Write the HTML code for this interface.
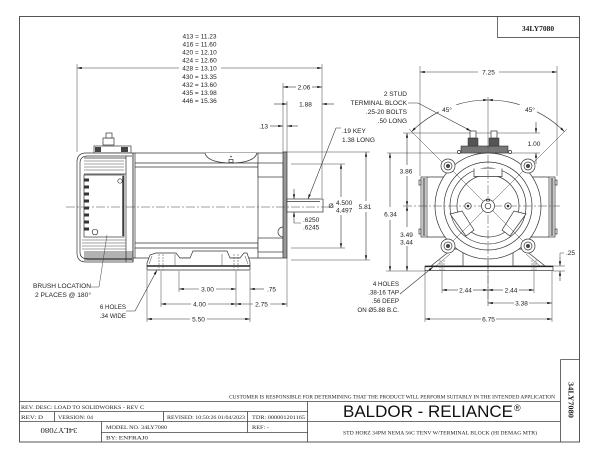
<!DOCTYPE html>
<html><head><meta charset="utf-8">
<style>
html,body{margin:0;padding:0;background:#fff;width:600px;height:464px;overflow:hidden;}
svg{display:block;}
.l{stroke:#333;stroke-width:0.7;fill:none;}
.w{stroke:#333;stroke-width:0.7;fill:#fff;}
.d{stroke:#333;stroke-width:0.6;fill:none;marker-end:url(#a);}
.e{stroke:#444;stroke-width:0.5;fill:none;}
.c{stroke:#444;stroke-width:0.5;fill:none;stroke-dasharray:9,2,2,2;}
.t{font-family:"Liberation Sans",sans-serif;font-size:6.5px;fill:#222;}
.n{font-family:"Liberation Sans",sans-serif;font-size:6.2px;fill:#222;}
.s{font-family:"Liberation Serif",serif;font-size:5.6px;fill:#222;}
</style></head><body>
<svg width="600" height="464" viewBox="0 0 600 464" xmlns="http://www.w3.org/2000/svg">
<defs>
<marker id="a" viewBox="0 0 8 4" refX="8" refY="2" markerWidth="5" markerHeight="2.4" markerUnits="userSpaceOnUse" orient="auto"><path d="M0,0L8,2L0,4z" fill="#222"/></marker>
</defs>
<rect width="600" height="464" fill="#fff"/>
<!-- border -->
<rect x="19.5" y="16.5" width="560" height="425.5" fill="none" stroke="#555" stroke-width="1"/>
<path d="M497.5,16.5V37.5H579.5" class="l"/>
<text x="538" y="31" text-anchor="middle" font-family="Liberation Serif,serif" font-size="7.5" font-weight="bold" fill="#222">34LY7080</text>

<!-- length list -->
<g class="t" font-size="7" text-anchor="middle">
<text x="199.5" y="38.5">413 = 11.23</text>
<text x="199.5" y="46.5">416 = 11.60</text>
<text x="199.5" y="54.5">420 = 12.10</text>
<text x="199.5" y="62.5">424 = 12.60</text>
<text x="199.5" y="70.5">428 = 13.10</text>
<text x="199.5" y="79">430 = 13.35</text>
<text x="199.5" y="87">432 = 13.60</text>
<text x="199.5" y="95">435 = 13.98</text>
<text x="199.5" y="103">446 = 15.36</text>
</g>

<!-- side view extension lines & dims -->
<path class="e" d="M77,64V152 M322,64V198 M283,83V152 M287,101V152"/>
<path class="d" d="M179,68H77"/><path class="d" d="M221,68H322"/>
<path class="d" d="M296,87H283"/><path class="d" d="M312,87H322"/>
<path class="d" d="M274,104H287"/><path class="d" d="M334,104H322"/>
<path class="d" d="M270,126H283"/><path class="d" d="M298,126H287"/>
<text class="t" x="304" y="89.5" text-anchor="middle">2.06</text>
<text class="t" x="305.5" y="106.5" text-anchor="middle">1.88</text>
<text class="t" x="268" y="128.5" text-anchor="end">.13</text>

<!-- terminal block side -->
<rect x="94" y="146" width="37" height="7" class="w"/>
<rect x="95" y="147" width="6" height="5" fill="#444"/>
<rect x="121" y="147" width="7" height="5" fill="#444"/>
<rect x="103" y="138" width="11" height="7" class="w"/>
<rect x="106" y="133" width="6" height="5" class="w"/>

<!-- end cap -->
<path class="w" d="M133,153H86Q77,153 77,162V253Q77,262 86,262H133Z"/>
<path class="l" d="M132,156H88Q80,156 80,163V252Q80,259 88,259H132"/>
<path class="l" d="M84,158H126V174H84 M126,156V262"/>
<path class="e" d="M84,161H124 M84,164H124 M84,167H124 M84,170H124"/>
<rect x="84" y="175" width="40" height="62" class="w"/>
<path d="M123,176V236" stroke="#222" stroke-width="1.3"/>
<g fill="#333">
<rect x="84" y="178.5" width="5" height="3"/><rect x="84" y="185.5" width="5" height="3"/>
<rect x="84" y="192.5" width="5" height="3"/><rect x="84" y="199.5" width="5" height="3"/>
<rect x="84" y="206.5" width="5" height="3"/><rect x="84" y="213.5" width="5" height="3"/>
<rect x="84" y="220.5" width="5" height="3"/><rect x="84" y="227.5" width="5" height="3"/>
</g>
<circle cx="120" cy="181" r="2.2" class="l"/>
<circle cx="95" cy="232" r="2.8" class="l"/>
<path class="e" d="M82,240H126 M82,243H126 M82,246H126 M82,249H126"/>
<path d="M84,252H133 M84,254H133 M84,256H133 M84,258H133 M84,260H133" stroke="#333" stroke-width="0.8"/>

<!-- body -->
<path class="l" d="M133,153H283 M133,153V262 M135,153V258 M135,163H258 M135,167H258 M135,243H258 M135,248H258 M133,258H283 M258,153V258"/>
<path class="w" d="M205,153C207,161 220,163 231,163C242,163 255,161 257,153"/>
<rect x="229" y="159.5" width="4" height="3" class="l"/>
<circle cx="231" cy="156.5" r="0.8" fill="#333"/>
<rect x="258" y="163" width="25" height="14" class="w"/>
<rect x="258" y="238" width="25" height="14" class="w"/>
<rect x="283" y="152" width="4" height="106" fill="#999" stroke="#333" stroke-width="0.7"/>
<path class="l" d="M283,227A5,5 0 0 0 283,237"/>
<rect x="287" y="199" width="36" height="13" class="w"/>
<path class="l" d="M287,201.5H320"/>
<path class="c" d="M66,207H335"/>

<!-- feet side -->
<path class="w" d="M147,270V263L150,255L156,253H176L180,258H190L193,251H227L230,258H240L244,253H247L250,262V270Z"/>
<path d="M147,266H250" stroke="#222" stroke-width="1.4"/>
<path class="e" stroke-dasharray="2,1" d="M159,254V270 M163,254V270 M234,254V270 M238,254V270"/>
<path class="e" d="M175,254V266 M222,254V266 M152,256L149,264 M245,256L248,264"/>

<!-- side bottom dims -->
<path class="e" d="M147,271V322 M161,271V307 M179,271V292 M236,271V307 M250,271V322 M287,258V307"/>
<path class="d" d="M199,289H179"/><path class="d" d="M216,289H236"/>
<path class="d" d="M264,289H250"/>
<path class="d" d="M191,304H161"/><path class="d" d="M208,304H236"/>
<path class="d" d="M253,304H236"/><path class="d" d="M270,304H287"/>
<path class="d" d="M190,319H147"/><path class="d" d="M207,319H250"/>
<text class="t" x="207.5" y="291.5" text-anchor="middle">3.00</text>
<text class="t" x="267" y="291.5">.75</text>
<text class="t" x="199.5" y="306.5" text-anchor="middle">4.00</text>
<text class="t" x="261.5" y="306.5" text-anchor="middle">2.75</text>
<text class="t" x="198.5" y="321.5" text-anchor="middle">5.50</text>

<!-- shaft dims -->
<path class="e" d="M291,164H345 M291,248H345 M283,152H370 M291,260H370"/>
<path class="d" d="M341,197V164"/><path class="d" d="M341,215V248"/>
<path class="d" d="M366,201V152"/><path class="d" d="M366,212V260"/>
<text class="t" x="328.5" y="208" font-size="8">Ø</text>
<text class="t" x="336" y="205" font-size="6">4.500</text>
<text class="t" x="336" y="212.5" font-size="6">4.497</text>
<text class="t" x="365" y="209" text-anchor="middle">5.81</text>
<path class="d" d="M294,189V199"/><path class="d" d="M294,223V212"/>
<path class="e" d="M294,223H301"/>
<text class="t" x="303" y="222" font-size="6">.6250</text>
<text class="t" x="303" y="229.5" font-size="6">.6245</text>
<path class="d" d="M341,128H336L308,199"/>
<text class="t" x="342" y="133">.19 KEY</text>
<text class="t" x="342" y="142">1.38 LONG</text>

<!-- terminal block note -->
<g class="t" text-anchor="end">
<text x="407" y="96">2 STUD</text>
<text x="407" y="105">TERMINAL BLOCK</text>
<text x="407" y="114">.25-20 BOLTS</text>
<text x="407" y="123">.50 LONG</text>
</g>
<path class="d" d="M408,103H418L471,131"/>

<!-- left notes -->
<text class="n" x="33" y="288" textLength="58" lengthAdjust="spacingAndGlyphs">BRUSH LOCATION</text>
<text class="n" x="35" y="297" textLength="56" lengthAdjust="spacingAndGlyphs">2 PLACES @ 180°</text>
<path class="e" d="M91,287H99L107,235"/>
<text class="n" x="126" y="309" text-anchor="end">6 HOLES</text>
<text class="n" x="126" y="318" text-anchor="end">.34 WIDE</text>
<path class="d" d="M126,311H135L157,270"/>

<!-- FRONT VIEW -->
<path class="e" d="M420,66V176 M557,66V176 M403,133H540 M387,153H540 M386,271H426 M488,97V140"/>
<path class="d" d="M478,72H420"/><path class="d" d="M499,72H557"/>
<text class="t" x="488.5" y="74.5" text-anchor="middle">7.25</text>
<path class="d" d="M439,111.8A108,108 0 0 0 411.6,131.6"/>
<path class="d" d="M456.4,104.7A108,108 0 0 1 488,100"/>
<path class="d" d="M519.6,104.7A108,108 0 0 0 488,100"/>
<path class="d" d="M537,111.8A108,108 0 0 1 564.4,131.6"/>
<text class="t" x="447" y="112" text-anchor="middle">45°</text>
<text class="t" x="530" y="112" text-anchor="middle">45°</text>
<path class="e" d="M409,129L444,164 M567,129L532,164"/>
<path class="d" d="M536,122V133"/><path class="d" d="M536,164V153"/>
<text class="t" x="534" y="146" text-anchor="middle">1.00</text>

<path class="d" d="M390,207V153"/><path class="d" d="M390,220V271"/>
<text class="t" x="390.5" y="216.5" text-anchor="middle">6.34</text>
<path class="d" d="M407,165V133"/><path class="d" d="M407,176V206"/>
<text class="t" x="406" y="173.5" text-anchor="middle">3.86</text>
<path class="d" d="M407,227V206"/><path class="d" d="M407,246V271"/>
<text class="t" x="406.5" y="237" text-anchor="middle">3.49</text>
<text class="t" x="406.5" y="244.5" text-anchor="middle">3.44</text>

<!-- side boxes -->
<path class="l" d="M427,177H445 M427,237H445 M549,177H531 M549,237H531"/>
<rect x="421" y="177" width="6" height="60" class="w"/>
<rect x="422.5" y="178" width="3" height="58" fill="#888"/>
<rect x="549" y="177" width="6" height="60" class="w"/>
<rect x="550.5" y="178" width="3" height="58" fill="#888"/>
<rect x="419" y="180" width="2" height="5" class="l"/><rect x="419" y="229" width="2" height="5" class="l"/>
<rect x="555" y="180" width="2" height="5" class="l"/><rect x="555" y="229" width="2" height="5" class="l"/>

<!-- terminal block front -->
<rect x="461" y="146" width="47" height="7" fill="#777" stroke="#333" stroke-width="0.6"/>
<rect x="468" y="138" width="10" height="8" fill="#555" stroke="#333" stroke-width="0.5"/>
<rect x="470" y="131" width="6" height="7" class="w"/>
<rect x="489" y="138" width="10" height="8" fill="#555" stroke="#333" stroke-width="0.5"/>
<rect x="491" y="131" width="6" height="7" class="w"/>
<circle cx="459" cy="152" r="1.6" class="w"/><circle cx="510" cy="152" r="1.6" class="w"/>

<!-- feet front -->
<path class="w" d="M431,266L446,254L452,249H463V266Z"/>
<path class="w" d="M545,266L530,254L524,249H513V266Z"/>
<path class="e" d="M436,266L450,254 M540,266L526,254"/>
<rect x="425" y="266" width="128" height="4.5" class="w"/>
<path d="M425,266.5H553" stroke="#222" stroke-width="1.2"/>
<path class="e" stroke-dasharray="2,1" d="M440,260V270 M444,260V270 M532,260V270 M536,260V270"/>

<!-- housing -->
<circle cx="488" cy="206" r="53" class="w"/>
<circle cx="488" cy="206" r="44" class="l"/>
<circle cx="488" cy="206" r="38" class="l"/>
<circle cx="488" cy="206" r="31" class="l"/>
<path class="w" d="M474,168.5V176.5H502V168.5"/>
<path class="w" d="M450,214L462,211L474,230L466,236Z"/>
<path class="w" d="M526,214L514,211L502,230L510,236Z"/>
<path class="e" d="M448,166L528,246 M528,166L448,246"/>
<path class="c" d="M403,206H560 M488,140V306"/>
<g>
<circle cx="448" cy="166" r="7" class="w"/><circle cx="448" cy="166" r="4" class="l"/><circle cx="448" cy="166" r="2" fill="#444"/>
<circle cx="528" cy="166" r="7" class="w"/><circle cx="528" cy="166" r="4" class="l"/><circle cx="528" cy="166" r="2" fill="#444"/>
<circle cx="448" cy="246" r="7" class="w"/><circle cx="448" cy="246" r="4" class="l"/><circle cx="448" cy="246" r="2" fill="#444"/>
<circle cx="528" cy="246" r="7" class="w"/><circle cx="528" cy="246" r="4" class="l"/><circle cx="528" cy="246" r="2" fill="#444"/>
</g>
<circle cx="468" cy="206" r="3.2" class="w"/><circle cx="468" cy="206" r="1.3" fill="#333"/>
<circle cx="508" cy="206" r="3.2" class="w"/><circle cx="508" cy="206" r="1.3" fill="#333"/>
<circle cx="488" cy="206" r="6.5" class="w"/><circle cx="488" cy="206" r="2.8" class="l"/>
<rect x="486.5" y="199" width="3" height="2" class="l"/>

<!-- front bottom dims -->
<path class="e" d="M442,262V293 M534,262V293 M425,271V322 M552,271V322 M488,260V306 M553,266H565 M553,271H565"/>
<path class="d" d="M458,290H442"/><path class="d" d="M473,290H488"/>
<path class="d" d="M503,290H488"/><path class="d" d="M519,290H534"/>
<path class="d" d="M514,303H488"/><path class="d" d="M529,303H552"/>
<path class="d" d="M481,319H425"/><path class="d" d="M496,319H552"/>
<text class="t" x="465.5" y="292.5" text-anchor="middle">2.44</text>
<text class="t" x="511" y="292.5" text-anchor="middle">2.44</text>
<text class="t" x="521.5" y="305.5" text-anchor="middle">3.38</text>
<text class="t" x="488.5" y="321.5" text-anchor="middle">6.75</text>
<path class="e" d="M564,253H560V257"/>
<path class="d" d="M560,257V266"/><path class="d" d="M560,281V271"/>
<text class="t" x="566" y="255">.25</text>
<g class="n" text-anchor="end">
<text x="399" y="286">4 HOLES</text>
<text x="399" y="294.5">.38-16 TAP</text>
<text x="399" y="303">.56 DEEP</text>
<text x="399" y="312">ON Ø5.88 B.C.</text>
</g>
<path class="d" d="M400,294L433,267"/>

<!-- title block -->
<path stroke="#444" stroke-width="0.8" fill="none" d="M19.5,401.5H560.5 M19.5,411.5H307.5 M19.5,421.5H560.5 M101.5,432.5H307.5 M307.5,401.5V442 M54.5,411.5V421.5 M163.5,411.5V421.5 M247.5,411.5V432.5 M101.5,421.5V442 M560.5,359.5V442 M560.5,359.5H579.5"/>
<text class="s" x="229" y="398.5" font-size="5" textLength="326" lengthAdjust="spacingAndGlyphs">CUSTOMER IS RESPONSIBLE FOR DETERMINING THAT THE PRODUCT WILL PERFORM SUITABLY IN THE INTENDED APPLICATION</text>
<text class="s" x="21" y="409" textLength="123" lengthAdjust="spacingAndGlyphs">REV. DESC: LOAD TO SOLIDWORKS - REV C</text>
<text class="s" x="21" y="419" textLength="22" lengthAdjust="spacingAndGlyphs">REV:  D</text>
<text class="s" x="58" y="419" textLength="35" lengthAdjust="spacingAndGlyphs">VERSION: 04</text>
<text class="s" x="167" y="419" textLength="78" lengthAdjust="spacingAndGlyphs">REVISED: 10:50:26 01/04/2023</text>
<text class="s" x="252" y="419" textLength="53" lengthAdjust="spacingAndGlyphs">TDR: 000001201165</text>
<text class="s" x="106" y="429" textLength="61" lengthAdjust="spacingAndGlyphs">MODEL NO. 34LY7080</text>
<text class="s" x="252" y="429" textLength="17" lengthAdjust="spacingAndGlyphs">REF: -</text>
<text class="s" x="106" y="439.5" textLength="42" lengthAdjust="spacingAndGlyphs">BY:  ENFRAJ0</text>
<text transform="rotate(180,59,431)" x="59" y="434" text-anchor="middle" font-family="Liberation Serif,serif" font-size="7.5" fill="#222" textLength="37" lengthAdjust="spacingAndGlyphs">34LY7080</text>
<text x="343" y="417" font-family="Liberation Sans,sans-serif" font-size="16.5" fill="#111" textLength="170" lengthAdjust="spacingAndGlyphs">BALDOR - RELIANCE</text>
<text x="514" y="411" font-family="Liberation Sans,sans-serif" font-size="9" fill="#111">®</text>
<text class="s" x="343" y="434.5" textLength="194" lengthAdjust="spacingAndGlyphs">STD HORZ 34PM NEMA 56C TENV W/TERMINAL BLOCK (HI DEMAG MTR)</text>
<text transform="translate(568.5,400) rotate(90)" x="0" y="0" text-anchor="middle" font-family="Liberation Serif,serif" font-size="7.5" font-weight="bold" fill="#222" textLength="36" lengthAdjust="spacingAndGlyphs">34LY7080</text>
</svg>
</body></html>
